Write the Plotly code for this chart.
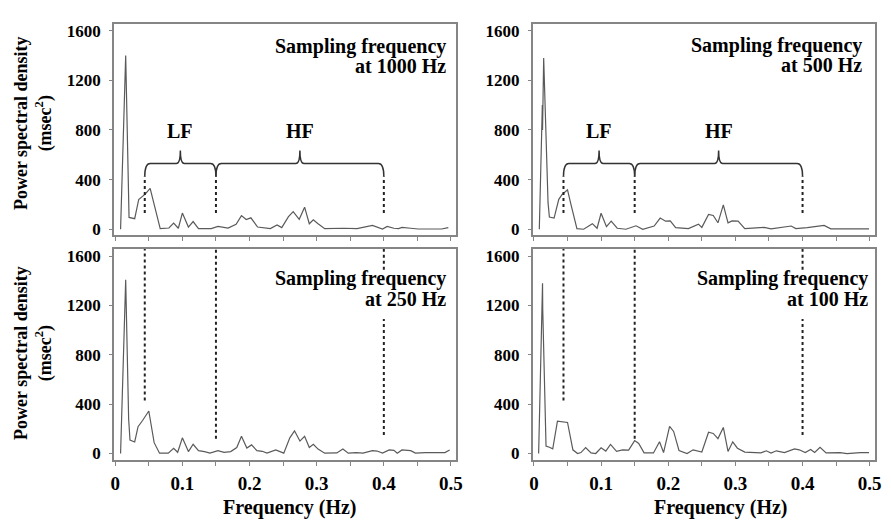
import plotly.graph_objects as go

# ---------------- data ----------------
f_1000 = [0.008, 0.0156, 0.0206, 0.029, 0.035, 0.045, 0.052, 0.060, 0.067, 0.080, 0.087, 0.094,
          0.100, 0.109, 0.116, 0.124, 0.143, 0.153, 0.168, 0.180, 0.188, 0.195, 0.202, 0.212,
          0.231, 0.241, 0.248, 0.258, 0.265, 0.274, 0.282, 0.289, 0.295, 0.302, 0.312, 0.340,
          0.360, 0.383, 0.390, 0.398, 0.405, 0.415, 0.422, 0.427, 0.440, 0.451, 0.486, 0.496]
p_1000 = [0, 1400, 95, 85, 240, 285, 330, 150, 5, 10, 50, 8,
          130, 18, 62, 5, 5, 23, 10, 40, 110, 78, 92, 18,
          5, 34, 13, 102, 142, 80, 178, 44, 76, 44, 5, 8,
          5, 31, 18, 2, 23, 8, 5, 15, 8, 2, 2, 13]

f_500 = [0.008, 0.0125, 0.0128, 0.0145, 0.021, 0.023, 0.030, 0.037, 0.042, 0.050, 0.055, 0.064,
         0.074, 0.087, 0.094, 0.100, 0.108, 0.115, 0.124, 0.137, 0.152, 0.162, 0.179, 0.188,
         0.196, 0.203, 0.211, 0.230, 0.245, 0.250, 0.260, 0.267, 0.274, 0.282, 0.289, 0.295,
         0.304, 0.314, 0.343, 0.353, 0.383, 0.390, 0.407, 0.432, 0.442, 0.466, 0.499]
p_500 = [0, 1000, 800, 1380, 214, 98, 90, 241, 280, 318, 202, 5,
         0, 45, 8, 129, 21, 65, 8, 0, 28, 0, 26, 90,
         65, 67, 13, 5, 41, 15, 119, 111, 52, 196, 52, 67,
         65, 5, 15, 3, 26, 5, 13, 31, 3, 5, 3]

f_250 = [0.008, 0.0156, 0.020, 0.022, 0.029, 0.034, 0.041, 0.050, 0.058, 0.066, 0.079, 0.087,
         0.093, 0.100, 0.109, 0.116, 0.124, 0.133, 0.141, 0.153, 0.162, 0.172, 0.181, 0.188,
         0.196, 0.203, 0.211, 0.219, 0.226, 0.239, 0.251, 0.260, 0.267, 0.275, 0.282, 0.289,
         0.295, 0.302, 0.312, 0.330, 0.339, 0.347, 0.359, 0.369, 0.383, 0.390, 0.398, 0.408,
         0.415, 0.420, 0.427, 0.440, 0.447, 0.462, 0.491, 0.498]
p_250 = [0, 1410, 280, 109, 94, 218, 270, 345, 88, 3, 3, 42,
         10, 127, 16, 75, 23, 16, 3, 23, 10, 16, 49, 140,
         44, 70, 23, 18, 3, 29, 3, 127, 184, 101, 140, 49,
         75, 36, 3, 5, 36, 3, 8, 3, 23, 20, 3, 29,
         26, 3, 29, 23, 3, 8, 8, 29]

f_100 = [0.007, 0.0128, 0.0131, 0.018, 0.023, 0.028, 0.035, 0.045, 0.050, 0.058, 0.065, 0.070,
         0.077, 0.085, 0.092, 0.100, 0.107, 0.114, 0.123, 0.132, 0.141, 0.150, 0.156, 0.164,
         0.178, 0.187, 0.193, 0.202, 0.208, 0.216, 0.228, 0.237, 0.250, 0.260, 0.267, 0.274,
         0.282, 0.289, 0.296, 0.303, 0.314, 0.338, 0.346, 0.353, 0.361, 0.373, 0.388, 0.395,
         0.404, 0.412, 0.418, 0.426, 0.435, 0.456, 0.466, 0.486, 0.499]
p_100 = [0, 1380, 1170, 60, 51, 38, 262, 258, 252, 30, 0, 8,
         48, 5, 0, 46, 20, 74, 17, 30, 27, 105, 82, 5,
         5, 95, 8, 220, 179, 25, 0, 30, 12, 173, 163, 121,
         212, 17, 95, 43, 12, 5, 22, 3, 22, 8, 38, 30,
         8, 33, 8, 51, 5, 8, 0, 8, 8]

label_line1 = ["Sampling frequency"] * 4
label_line2 = ["at 1000 Hz", "at 500 Hz", "at 250 Hz", "at 100 Hz"]
x_tickvals = [0, 0.1, 0.2, 0.3, 0.4, 0.5]
x_ticktext = ["0", "0.1", "0.2", "0.3", "0.4", "0.5"]
y_tickvals = [0, 400, 800, 1200, 1600]
y_ticktext = ["0", "400", "800", "1200", "1600"]
band_edges = [0.044, 0.15, 0.40]          # LF: 0.04-0.15, HF: 0.15-0.40
band_names = ["LF", "HF"]
y_title = "Power spectral density<br>(msec<sup>2</sup>)"
x_title = "Frequency (Hz)"

# ---------------- figure ----------------
SERIF = "Liberation Serif, Times New Roman, serif"
LINE_C = "#5a5a5a"
AX_C = "#858585"

series = [(f_1000, p_1000), (f_500, p_500), (f_250, p_250), (f_100, p_100)]
axes = [("x", "y"), ("x2", "y2"), ("x3", "y3"), ("x4", "y4")]

fig = go.Figure()
for (fx, py), (xa, ya) in zip(series, axes):
    fig.add_trace(go.Scatter(x=fx, y=py, mode="lines", xaxis=xa, yaxis=ya,
                             line=dict(color=LINE_C, width=1.2), showlegend=False,
                             hoverinfo="skip"))

x_left = [112 / 891, 458 / 891]
x_right = [535 / 891, 881 / 891]
y_top = [1 - 235 / 520, 1 - 21.7 / 520]
y_bot = [1 - 463.3 / 520, 1 - 249.3 / 520]
rng_x = [-0.002, 0.508]
rng_top = [-45, 1650]
rng_bot = [-53, 1659]


def xaxis(domain, anchor, labels):
    return dict(domain=domain, anchor=anchor, range=rng_x, showgrid=False, zeroline=False,
                showline=True, mirror=True, linecolor=AX_C, linewidth=1.5,
                tickmode="array", tickvals=x_tickvals, ticktext=x_ticktext,
                showticklabels=labels, ticks="outside", ticklen=4, tickcolor=AX_C,
                ticklabelstandoff=1,
                minor=dict(tickmode="linear", tick0=0, dtick=0.05, ticks="outside",
                           ticklen=4, tickcolor=AX_C, showgrid=False),
                tickfont=dict(family=SERIF, size=19, color="black", weight="bold"))


def yaxis(domain, anchor, rng):
    return dict(domain=domain, anchor=anchor, range=rng, showgrid=False, zeroline=False,
                showline=True, mirror=True, linecolor=AX_C, linewidth=1.5,
                tickmode="array", tickvals=y_tickvals, ticktext=y_ticktext,
                ticks="outside", ticklen=3, tickcolor=AX_C, ticklabelstandoff=5,
                tickfont=dict(family=SERIF, size=17, color="black", weight="bold"))


fig.update_layout(
    width=891, height=520, margin=dict(l=0, r=0, t=0, b=0),
    paper_bgcolor="white", plot_bgcolor="white",
    xaxis=xaxis(x_left, "y", False), yaxis=yaxis(y_top, "x", rng_top),
    xaxis2=xaxis(x_right, "y2", False), yaxis2=yaxis(y_top, "x2", rng_top),
    xaxis3=xaxis(x_left, "y3", True), yaxis3=yaxis(y_bot, "x3", rng_bot),
    xaxis4=xaxis(x_right, "y4", True), yaxis4=yaxis(y_bot, "x4", rng_bot),
)

shapes = []
annotations = []
dot = dict(color="#222222", width=2, dash="dot")

# braces, dotted band boundaries and LF/HF labels in the top panels
Y_END, Y_H, Y_TIP, Y_LAB = 425, 530, 635, 795
for xa, ya in axes[:2]:
    for i, name in enumerate(band_names):
        x0, x1 = band_edges[i], band_edges[i + 1]
        xm = (x0 + x1) / 2
        r = 0.008
        rt = 0.006
        path = (f"M {x0},{Y_END} Q {x0},{Y_H} {x0 + r},{Y_H} L {xm - rt},{Y_H} "
                f"Q {xm},{Y_H} {xm},{Y_TIP} Q {xm},{Y_H} {xm + rt},{Y_H} "
                f"L {x1 - r},{Y_H} Q {x1},{Y_H} {x1},{Y_END}")
        shapes.append(dict(type="path", path=path, xref=xa, yref=ya,
                           line=dict(color="#333333", width=1.5)))
        annotations.append(dict(text=name, x=xm, y=Y_LAB, xref=xa, yref=ya, showarrow=False,
                                font=dict(family=SERIF, size=20, color="black", weight="bold")))
    for xb in band_edges:
        shapes.append(dict(type="line", x0=xb, x1=xb, y0=130, y1=Y_END, xref=xa, yref=ya,
                           line=dot))

# dotted band boundaries in the bottom panels
for xa, ya in axes[2:]:
    shapes.append(dict(type="line", x0=band_edges[0], x1=band_edges[0], y0=430, y1=1665,
                       xref=xa, yref=ya, line=dot))
    shapes.append(dict(type="line", x0=band_edges[1], x1=band_edges[1], y0=120, y1=1665,
                       xref=xa, yref=ya, line=dot))
    shapes.append(dict(type="line", x0=band_edges[2], x1=band_edges[2], y0=1490, y1=1665,
                       xref=xa, yref=ya, line=dot))
    shapes.append(dict(type="line", x0=band_edges[2], x1=band_edges[2], y0=150, y1=1090,
                       xref=xa, yref=ya, line=dot))

# panel labels (two separately placed lines, right-aligned)
xshifts = [-8, -11, -8, -5]
yshifts = [(-22, -42), (-21, -41), (-30, -50), (-30, -50)]
for (xa, ya), t1, t2, xs, (ys1, ys2) in zip(axes, label_line1, label_line2, xshifts, yshifts):
    for txt, ys in [(t1, ys1), (t2, ys2)]:
        annotations.append(dict(text=txt, xref=f"{xa} domain", yref=f"{ya} domain", x=1, y=1,
                                xanchor="right", yanchor="middle", xshift=xs, yshift=ys,
                                showarrow=False,
                                font=dict(family=SERIF, size=20, color="black", weight="bold")))

# axis titles
for yc in [1 - 122 / 520, 1 - 355 / 520]:
    annotations.append(dict(text=y_title, xref="paper", yref="paper", x=31 / 891, y=yc,
                            xanchor="center", yanchor="middle", textangle=-90,
                            showarrow=False,
                            font=dict(family=SERIF, size=18, color="black", weight="bold")))
for xc in [290 / 891, 725 / 891]:
    annotations.append(dict(text=x_title, xref="paper", yref="paper", x=xc, y=1 - 511 / 520,
                            xanchor="center", yanchor="middle", showarrow=False,
                            font=dict(family=SERIF, size=20, color="black", weight="bold")))

fig.update_layout(shapes=shapes, annotations=annotations)
fig.write_html("out.html", config={"displayModeBar": False},
               post_script="document.body.style.margin='0';")
